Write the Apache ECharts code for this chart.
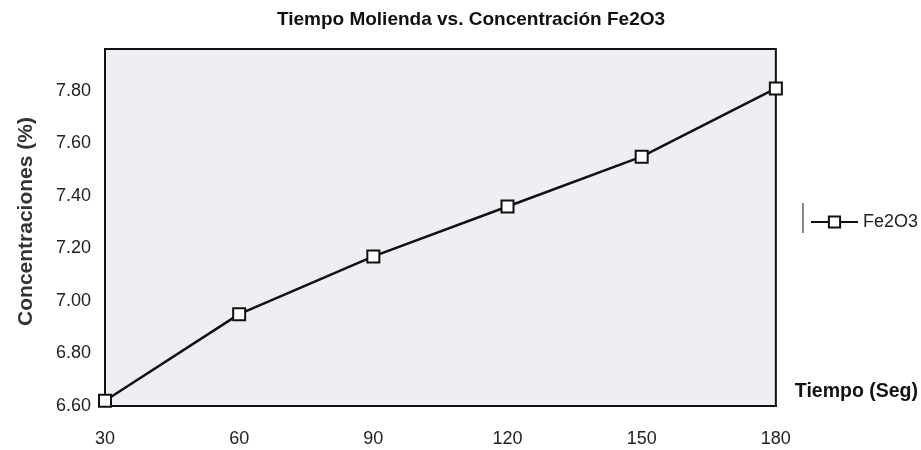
<!DOCTYPE html>
<html>
<head>
<meta charset="utf-8">
<script src="https://cdn.jsdelivr.net/npm/echarts@6/dist/echarts.min.js"></script>
<style>
  html, body { margin: 0; padding: 0; background: #fff; }
  #chart { width: 921px; height: 450px; }
</style>
</head>
<body>
<div id="chart"></div>
<script>
// datos
const tiempos = [30, 60, 90, 120, 150, 180]
const fe2o3 = [6.62, 6.95, 7.17, 7.36, 7.55, 7.81]
const yTicks = [6.60, 6.80, 7.00, 7.20, 7.40, 7.60, 7.80]

const FONT = 'Liberation Sans, Arial, sans-serif'

const chart = echarts.init(document.getElementById('chart'), null, { renderer: 'canvas' })

chart.setOption({
  backgroundColor: '#ffffff',
  animation: false,
  title: {
    text: 'Tiempo Molienda vs. Concentración Fe2O3',
    left: 466,
    textAlign: 'center',
    top: 5,
    textStyle: { fontFamily: FONT, fontSize: 19, fontWeight: 'bold', color: '#111' }
  },
  legend: {
    left: 810,
    top: 213,
    padding: 0,
    itemWidth: 47,
    itemHeight: 14,
    data: ['Fe2O3'],
    textStyle: { fontFamily: FONT, fontSize: 18, color: '#222' }
  },
  grid: {
    left: 105,
    right: 144,
    top: 49,
    bottom: 44,
    show: true,
    backgroundColor: '#efeff3',
    borderColor: '#111',
    borderWidth: 2
  },
  xAxis: {
    type: 'value',
    min: 30,
    max: 180,
    interval: 30,
    name: 'Tiempo (Seg)',
    nameLocation: 'end',
    nameGap: 19,
    nameTextStyle: {
      fontFamily: FONT, fontSize: 19.5, fontWeight: 'bold', color: '#111',
      verticalAlign: 'bottom', padding: [0, 0, 4, 0]
    },
    axisLine: { lineStyle: { color: '#111', width: 2 } },
    axisTick: { show: false },
    splitLine: { show: false },
    axisLabel: { margin: 24, fontFamily: FONT, fontSize: 18, color: '#222' }
  },
  yAxis: {
    type: 'value',
    min: yTicks[0],
    max: 7.96,
    interval: 0.2,
    name: 'Concentraciones (%)',
    nameLocation: 'middle',
    nameGap: 68,
    nameTextStyle: {
      fontFamily: FONT, fontSize: 21, fontWeight: 'bold', color: '#333',
      padding: [0, 0, 0, 12]
    },
    axisLine: { show: true, lineStyle: { color: '#111', width: 2 } },
    axisTick: { show: false },
    splitLine: { show: false },
    axisLabel: {
      margin: 14,
      showMaxLabel: false,
      fontFamily: FONT, fontSize: 18, color: '#222',
      formatter: v => v.toFixed(2)
    }
  },
  graphic: [{
    type: 'line',
    shape: { x1: 803, y1: 203, x2: 803, y2: 233 },
    style: { stroke: '#888', lineWidth: 2 }
  }],
  series: [{
    name: 'Fe2O3',
    type: 'line',
    data: tiempos.map((t, i) => [t, fe2o3[i]]),
    symbol: 'rect',
    symbolSize: 12,
    showAllSymbol: true,
    itemStyle: { color: '#ffffff', borderColor: '#111', borderWidth: 2 },
    lineStyle: { color: '#111', width: 2.5 },
    emphasis: { disabled: true },
    clip: false,
    z: 3
  }]
})
</script>
</body>
</html>
